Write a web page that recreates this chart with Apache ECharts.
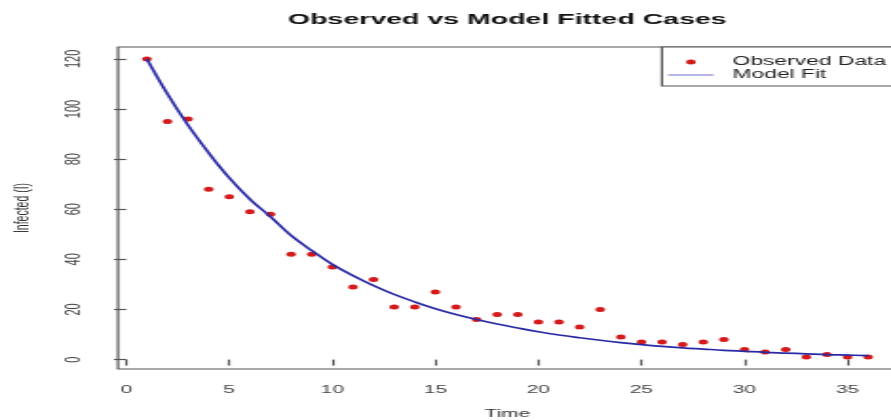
<!DOCTYPE html>
<html>
<head>
<meta charset="utf-8">
<script src="https://cdn.jsdelivr.net/npm/echarts@6/dist/echarts.min.js"></script>
<style>
html, body { margin: 0; padding: 0; overflow: hidden; background: #fff; width: 891px; height: 420px; }
#main { width: 480px; height: 420px; transform: scaleX(1.9); transform-origin: 0 0; }
</style>
</head>
<body>
<div id="main"></div>
<script>
const timePoints = [1,2,3,4,5,6,7,8,9,10,11,12,13,14,15,16,17,18,19,20,21,22,23,24,25,26,27,28,29,30,31,32,33,34,35,36];
const observed = [120,95,96,68,65,59,58,42,42,37,29,32,21,21,27,21,16,18,18,15,15,13,20,9,7,7,6,7,8,4,3,4,1,2,1,1];
const modelFit = [120,106,93.5,82.5,72.5,64,57,49.5,43.5,38,33.5,29.5,26,23,20.3,18,16,14.2,12.6,11.1,9.8,8.7,7.7,6.8,6,5.3,4.7,4.2,3.7,3.3,2.9,2.6,2.3,2,1.8,1.6];
const xTicks = [0,5,10,15,20,25,30,35];
const yTicks = [0,20,40,60,80,100,120];

const FONT = 'Liberation Sans';
const chart = echarts.init(document.getElementById('main'));
chart.setOption({
  animation: false,
  backgroundColor: '#fff',
  title: {
    text: 'Observed vs Model Fitted Cases',
    left: 267, top: 12, textAlign: 'center', padding: 0,
    textStyle: { fontFamily: FONT, fontSize: 15, fontWeight: 'bold', color: '#111' }
  },
  legend: {
    orient: 'vertical', left: 348.4, top: 47,
    padding: [9, 30, 5, 3.2], itemGap: 1, itemWidth: 24, itemHeight: 5,
    borderColor: '#555', borderWidth: 1.2, backgroundColor: '#fff',
    textStyle: { fontFamily: FONT, fontSize: 12, color: '#222', padding: [0, 0, 0, 5] },
    data: [
      { name: 'Observed Data', icon: 'circle', itemStyle: { color: '#d41a1a', opacity: 1 } },
      { name: 'Model Fit', icon: 'path://M0,0H24V1.6H0Z', itemStyle: { color: '#a3a3e3' } }
    ]
  },
  grid: {
    show: true, left: 62.1, top: 47, width: 410, height: 322,
    outerBoundsMode: 'none', containLabel: false,
    borderColor: '#555', borderWidth: 1.2, backgroundColor: 'transparent'
  },
  xAxis: {
    type: 'value', min: -0.4, max: 37.4,
    name: 'Time', nameLocation: 'middle', nameGap: 39,
    nameTextStyle: { fontFamily: FONT, fontSize: 11, color: '#333' },
    axisLine: { show: false },
    splitLine: { show: false },
    axisTick: { show: true, length: 6, customValues: xTicks, lineStyle: { color: '#555', width: 1.2 } },
    axisLabel: { customValues: xTicks, margin: 15, fontFamily: FONT, fontSize: 11, color: '#444' }
  },
  yAxis: {
    type: 'value', min: -3.76, max: 124.76,
    name: 'Infected (I)', nameLocation: 'middle', nameGap: 44, nameRotate: 90,
    nameTextStyle: { fontFamily: FONT, fontSize: 10.5, color: '#333' },
    axisLine: { show: false },
    splitLine: { show: false },
    axisTick: { show: true, length: 6.5, customValues: yTicks, lineStyle: { color: '#555', width: 1.2 } },
    axisLabel: { customValues: yTicks, rotate: 90, margin: 18, fontFamily: FONT, fontSize: 11, color: '#444' }
  },
  series: [
    {
      name: 'Observed Data', type: 'scatter', symbol: 'circle', symbolSize: 5,
      itemStyle: { color: '#d41a1a', opacity: 1 },
      data: timePoints.map((t, i) => [t, observed[i]])
    },
    {
      name: 'Model Fit', type: 'line', smooth: 0.4, showSymbol: false, symbol: 'none',
      lineStyle: { color: '#2a2aa6', width: 1.7 },
      data: timePoints.map((t, i) => [t, modelFit[i]])
    }
  ]
});
</script>
</body>
</html>
